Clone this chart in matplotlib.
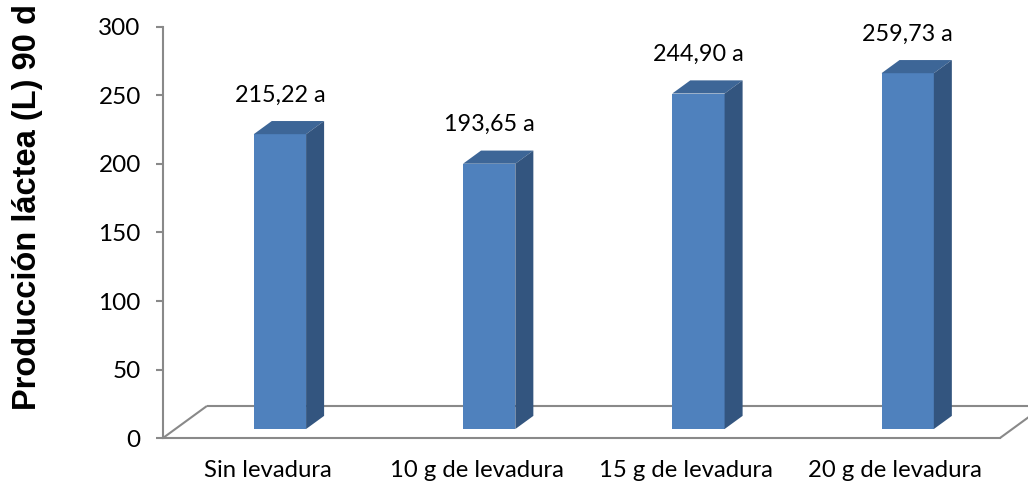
import matplotlib
matplotlib.use('Agg')
import matplotlib.pyplot as plt
from matplotlib.patches import Polygon

categorias = ['Sin levadura', '10 g de levadura', '15 g de levadura', '20 g de levadura']
produccion = [215.22, 193.65, 244.90, 259.73]
etiquetas = ['215,22 a', '193,65 a', '244,90 a', '259,73 a']
yticks = [0, 50, 100, 150, 200, 250, 300]

# proyeccion oblicua del fondo 3D (en unidades de datos)
prof_x = 0.21      # desplazamiento horizontal de todo el fondo
prof_y = 23.4      # desplazamiento vertical de todo el fondo
ancho = 0.25       # ancho de la columna
z0, z1 = 0.28, 0.69  # profundidad de la cara frontal y trasera de cada columna

c_frente = '#4F81BD'
c_techo = '#3D6697'
c_lado = '#33557F'
c_eje = '#898989'

plt.rcParams['font.family'] = ['Lato', 'DejaVu Sans']

fig = plt.figure(figsize=(10.28, 4.86), dpi=100)
ax = fig.add_axes([163 / 1028, 48 / 486, 837 / 1028, 411 / 486])
ax.set_xlim(0, len(categorias))
ax.set_ylim(0, 300)

for s in ['top', 'right']:
    ax.spines[s].set_visible(False)
for s in ['left', 'bottom']:
    ax.spines[s].set_color(c_eje)
    ax.spines[s].set_linewidth(1.5)

# piso
n = len(categorias)
kw = dict(color=c_eje, lw=1.5, clip_on=False, zorder=1, solid_capstyle='butt')
ax.plot([0, prof_x], [0, prof_y], **kw)
ax.plot([prof_x, n + prof_x], [prof_y, prof_y], **kw)
ax.plot([n, n + prof_x], [0, prof_y], **kw)

for i, (v, txt) in enumerate(zip(produccion, etiquetas)):
    c = i + 0.5
    x0 = c - ancho / 2 + z0 * prof_x
    x1 = x0 + ancho
    b = z0 * prof_y
    t = b + v
    dx = (z1 - z0) * prof_x
    dy = (z1 - z0) * prof_y
    ax.add_patch(Polygon([(x0, b), (x1, b), (x1, t), (x0, t)],
                         closed=True, fc=c_frente, ec='none', zorder=3))
    ax.add_patch(Polygon([(x0, t), (x1, t), (x1 + dx, t + dy), (x0 + dx, t + dy)],
                         closed=True, fc=c_techo, ec='none', zorder=3))
    ax.add_patch(Polygon([(x1, b), (x1 + dx, b + dy), (x1 + dx, t + dy), (x1, t)],
                         closed=True, fc=c_lado, ec='none', zorder=3))
    ax.annotate(txt, xy=(c + z0 * prof_x, t), xytext=(0, 28),
                textcoords='offset points', ha='center', va='center',
                fontsize=16.8, color='black')

ax.set_yticks(yticks)
ax.set_yticklabels([str(v) for v in yticks], fontsize=17.5)
ax.tick_params(axis='y', length=5, width=1.5, color=c_eje, pad=11)
ax.set_xticks([i + 0.5 for i in range(n)])
ax.set_xticklabels(categorias, fontsize=17.2)
ax.tick_params(axis='x', length=0, pad=16)

fig.text(28 / 1028, 1 - 207 / 486, 'Producción láctea (L) 90 d', rotation=90,
         ha='center', va='center', fontsize=23.5, fontweight='bold',
         family=['Liberation Sans', 'DejaVu Sans'])

fig.savefig('out.png', dpi=100)
